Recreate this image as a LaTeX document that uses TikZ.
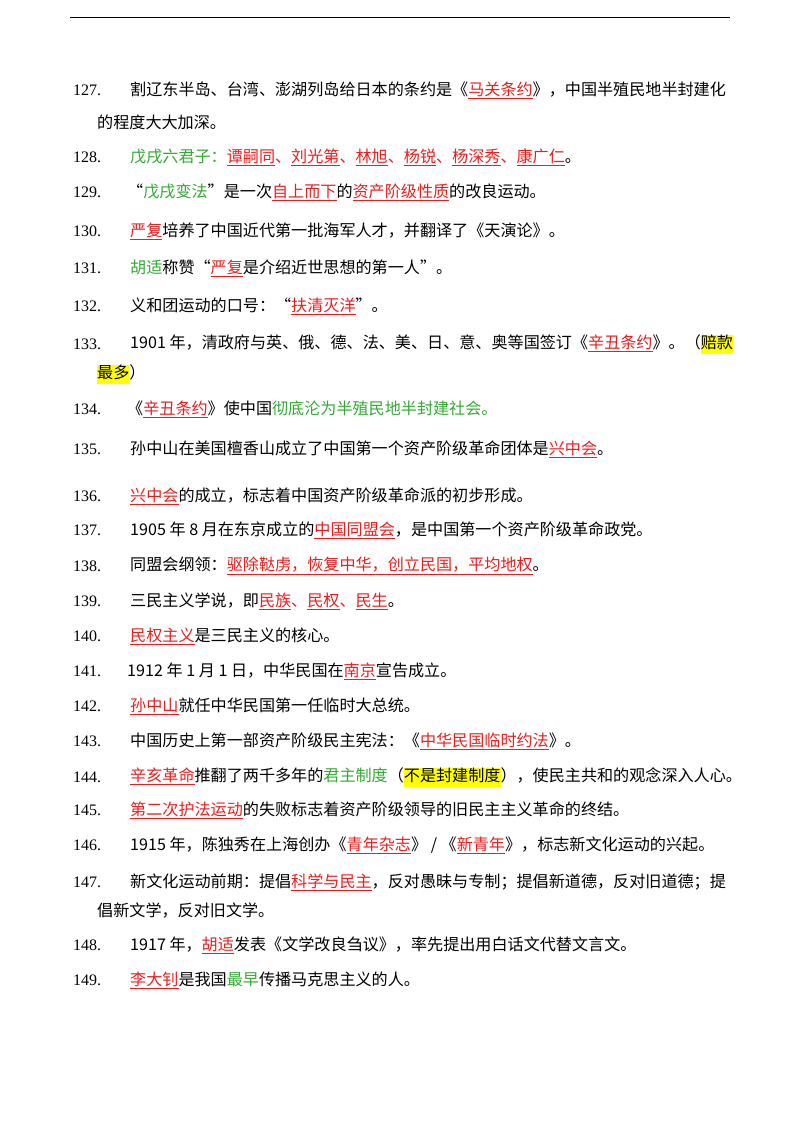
\documentclass[tikz,border=0pt]{standalone}
\usepackage{fontspec}
\setmainfont{Noto Sans CJK SC}
\newfontfamily\numf{Liberation Serif}
\definecolor{rd}{RGB}{235,30,30}
\definecolor{gn}{RGB}{50,170,50}
\definecolor{hl}{RGB}{255,255,0}
\newcommand{\rul}[1]{\textcolor{rd}{\underline{#1}}}
\newcommand{\grn}[1]{\textcolor{gn}{#1}}
\newcommand{\hlt}[1]{{\setlength{\fboxsep}{0pt}\colorbox{hl}{\strut #1}}}
\tikzset{num/.style={anchor=west,inner sep=0pt,font=\numf\fontsize{16}{18}\selectfont},
txt/.style={anchor=west,inner sep=0pt,font=\fontsize{16.1}{18}\selectfont}}
\begin{document}
\begin{tikzpicture}[x=1pt,y=-1pt]
\useasboundingbox (0,0) rectangle (800,1132);
\draw[line width=0.8pt] (70,17) -- (730,17);
\foreach \n/\y in {127/90,128/157,129/192,130/231,131/268,132/306,133/344,134/409,135/449,136/496,137/530,138/566,139/601,140/636,141/671,142/706,143/741,144/777,145/810,146/845,147/882,148/945,149/980}
  \node[num] (n\n) at (73,\y) {\n.};
\node[txt] (t127) at (130,90) {割辽东半岛、台湾、澎湖列岛给日本的条约是《\rul{马关条约}》，中国半殖民地半封建化};
\node[txt] (t127b) at (97,122) {的程度大大加深。};
\node[txt] (t128) at (130,157) {\grn{戊戌六君子：}\rul{谭嗣同}\textcolor{rd}{、}\rul{刘光第}\textcolor{rd}{、}\rul{林旭}\textcolor{rd}{、}\rul{杨锐}\textcolor{rd}{、}\rul{杨深秀}\textcolor{rd}{、}\rul{康广仁}。};
\node[txt] (t129) at (127,192) {“\grn{戊戌变法}”是一次\rul{自上而下}的\rul{资产阶级性质}的改良运动。};
\node[txt] (t130) at (130,231) {\rul{严复}培养了中国近代第一批海军人才，并翻译了《天演论》。};
\node[txt] (t131) at (130,268) {\grn{胡适}称赞“\rul{严复}是介绍近世思想的第一人”。};
\node[txt] (t132) at (130,306) {义和团运动的口号：“\rul{扶清灭洋}”。};
\node[txt] (t133) at (130,344) {1901 年，清政府与英、俄、德、法、美、日、意、奥等国签订《\rul{辛丑条约}》。（\hlt{赔款}};
\node[txt] (t133b) at (97,374) {\hlt{最多}）};
\node[txt] (t134) at (127,409) {《\rul{辛丑条约}》使中国\grn{彻底沦为半殖民地半封建社会。}};
\node[txt] (t135) at (130,449) {孙中山在美国檀香山成立了中国第一个资产阶级革命团体是\rul{兴中会}。};
\node[txt] (t136) at (130,496) {\rul{兴中会}的成立，标志着中国资产阶级革命派的初步形成。};
\node[txt] (t137) at (130,530) {1905 年 8 月在东京成立的\rul{中国同盟会}，是中国第一个资产阶级革命政党。};
\node[txt] (t138) at (130,566) {同盟会纲领：\rul{驱除鞑虏，恢复中华，创立民国，平均地权}。};
\node[txt] (t139) at (130,601) {三民主义学说，即\rul{民族}\textcolor{rd}{、}\rul{民权}\textcolor{rd}{、}\rul{民生}。};
\node[txt] (t140) at (130,636) {\rul{民权主义}是三民主义的核心。};
\node[txt] (t141) at (127,671) {1912 年 1 月 1 日，中华民国在\rul{南京}宣告成立。};
\node[txt] (t142) at (130,706) {\rul{孙中山}就任中华民国第一任临时大总统。};
\node[txt] (t143) at (130,741) {中国历史上第一部资产阶级民主宪法：《\rul{中华民国临时约法}》。};
\node[txt] (t144) at (130,777) {\rul{辛亥革命}推翻了两千多年的\grn{君主制度}（\hlt{不是封建制度}），使民主共和的观念深入人心。};
\node[txt] (t145) at (130,810) {\rul{第二次护法运动}的失败标志着资产阶级领导的旧民主主义革命的终结。};
\node[txt] (t146) at (130,845) {1915 年，陈独秀在上海创办《\rul{青年杂志}》 / 《\rul{新青年}》，标志新文化运动的兴起。};
\node[txt] (t147) at (130,882) {新文化运动前期：提倡\rul{科学与民主}，反对愚昧与专制；提倡新道德，反对旧道德；提};
\node[txt] (t147b) at (97,911) {倡新文学，反对旧文学。};
\node[txt] (t148) at (130,945) {1917 年，\rul{胡适}发表《文学改良刍议》，率先提出用白话文代替文言文。};
\node[txt] (t149) at (130,980) {\rul{李大钊}是我国\grn{最早}传播马克思主义的人。};
\end{tikzpicture}
\end{document}
